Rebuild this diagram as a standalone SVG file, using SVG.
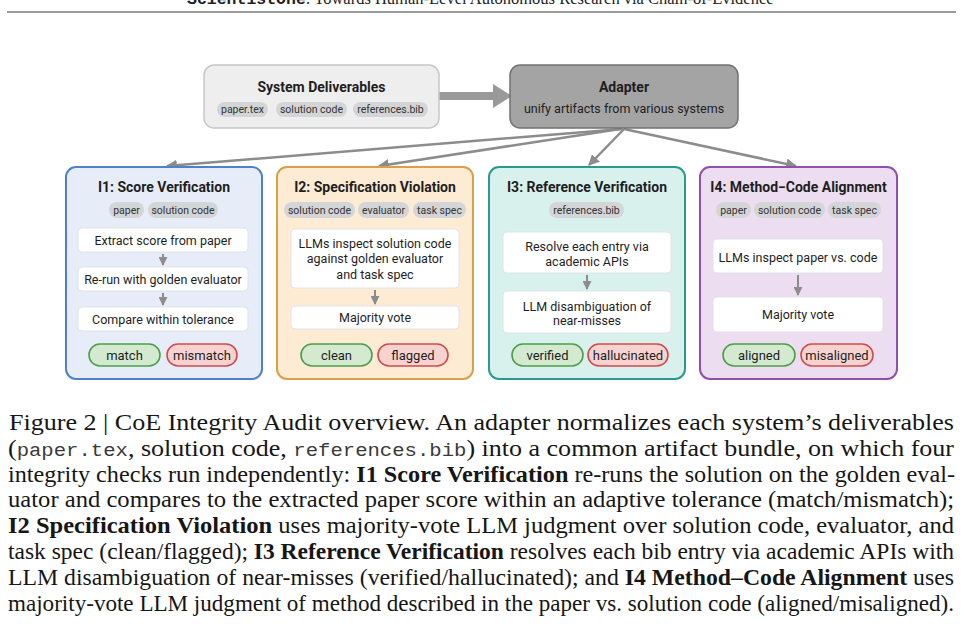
<svg xmlns="http://www.w3.org/2000/svg" width="964" height="633" viewBox="0 0 964 633">
<defs>
<style>
.sans{font-family:Roboto,"Liberation Sans",sans-serif;fill:#1e1e1e}
.ttl{font-size:14px;font-weight:700;text-anchor:middle}
.pill{fill:#d4d5d7}
.pt{font-size:10.5px;text-anchor:middle;fill:#333}
.step{fill:#ffffff;stroke:#dfe3e8;stroke-width:1}
.st{font-size:12.5px;text-anchor:middle}
.ok{fill:#d3ead0;stroke:#4c9e4a;stroke-width:1.6}
.bad{fill:#f6d3d1;stroke:#d24b4b;stroke-width:1.6}
.bt{font-size:13px;text-anchor:middle}
.conn{stroke:#8c8c8c;stroke-width:2.5;fill:none}
.sarr{stroke:#8c8c8c;stroke-width:2;fill:none}
.cap{font-family:"Liberation Serif",serif;font-size:24px;fill:#161616}
.mono{font-family:"Liberation Mono",monospace;font-size:19px;fill:#3a3a3a}
</style>
<marker id="ah" viewBox="0 0 10 10" refX="9" refY="5" markerWidth="4.4" markerHeight="4.4" orient="auto" markerUnits="strokeWidth">
<path d="M0,0 L10,5 L0,10 z" fill="#8c8c8c"/>
</marker>
<marker id="sh" viewBox="0 0 10 10" refX="9" refY="5" markerWidth="4.5" markerHeight="4.5" orient="auto" markerUnits="strokeWidth">
<path d="M0,0 L10,5 L0,10 z" fill="#8c8c8c"/>
</marker>
</defs>
<rect width="964" height="633" fill="#ffffff"/>

<!-- page header -->
<text x="187" y="4" style="font-size:16.5px;fill:#222"><tspan style="font-family:'Liberation Mono',monospace;font-weight:700">ScientistOne</tspan><tspan style="font-family:'Liberation Serif',serif">: Towards Human-Level Autonomous Research via Chain-of-Evidence</tspan></text>
<line x1="7" y1="12" x2="956" y2="12" stroke="#7a7a7a" stroke-width="1.6"/>

<!-- connectors -->
<g id="connectors">
<line x1="439" y1="96" x2="496" y2="96" stroke="#999999" stroke-width="8"/>
<path d="M493,84 L512,96 L493,108 z" fill="#999999"/>
<line class="conn" x1="622" y1="129" x2="167" y2="166" marker-end="url(#ah)"/>
<line class="conn" x1="620" y1="129" x2="379" y2="166" marker-end="url(#ah)"/>
<line class="conn" x1="624" y1="129" x2="589" y2="165" marker-end="url(#ah)"/>
<line class="conn" x1="624" y1="129" x2="796" y2="166" marker-end="url(#ah)"/>
</g>

<g id="system-deliverables" class="sans">
<rect x="204" y="65" width="235" height="63" rx="10" fill="#eeeeee" stroke="#c6c6c6" stroke-width="1.5"/>
<text class="ttl" x="321.5" y="92">System Deliverables</text>
<rect class="pill" x="217" y="102" width="51" height="15" rx="7.5"/>
<text class="pt" x="242.5" y="113">paper.tex</text>
<rect class="pill" x="276" y="102" width="71" height="15" rx="7.5"/>
<text class="pt" x="311.5" y="113">solution code</text>
<rect class="pill" x="353" y="102" width="75" height="15" rx="7.5"/>
<text class="pt" x="390.5" y="113">references.bib</text>
</g>

<g id="adapter" class="sans">
<rect x="510" y="65" width="228" height="63" rx="10" fill="#a4a4a4" stroke="#727272" stroke-width="1.5"/>
<text class="ttl" x="624" y="92">Adapter</text>
<text class="st" x="624" y="113" style="font-size:12.5px">unify artifacts from various systems</text>
</g>

<g id="i1" class="sans">
<rect x="66" y="167" width="196" height="212" rx="10" fill="#e6edf8" stroke="#4e80cb" stroke-width="2"/>
<text class="ttl" x="164" y="192">I1: Score Verification</text>
<rect class="pill" x="109" y="202" width="35" height="16" rx="8"/>
<text class="pt" x="126.5" y="213.5">paper</text>
<rect class="pill" x="148" y="202" width="70" height="16" rx="8"/>
<text class="pt" x="183" y="213.5">solution code</text>
<rect class="step" x="78" y="228" width="170" height="24" rx="4"/>
<text class="st" x="163" y="244.5">Extract score from paper</text>
<line class="sarr" x1="163" y1="254" x2="163" y2="265" marker-end="url(#sh)"/>
<rect class="step" x="78" y="267" width="170" height="24" rx="4"/>
<text class="st" x="163" y="283.5">Re-run with golden evaluator</text>
<line class="sarr" x1="163" y1="293" x2="163" y2="305" marker-end="url(#sh)"/>
<rect class="step" x="78" y="307" width="170" height="24" rx="4"/>
<text class="st" x="163" y="323.5">Compare within tolerance</text>
<rect class="ok" x="89" y="344" width="71" height="22" rx="11"/>
<text class="bt" x="124.5" y="359.5">match</text>
<rect class="bad" x="167" y="344" width="70" height="22" rx="11"/>
<text class="bt" x="202" y="359.5">mismatch</text>
</g>

<g id="i2" class="sans">
<rect x="277" y="167" width="196" height="212" rx="10" fill="#fdebd4" stroke="#d7a147" stroke-width="2"/>
<text class="ttl" x="375" y="192">I2: Specification Violation</text>
<rect class="pill" x="284" y="202" width="71" height="16" rx="8"/>
<text class="pt" x="319.5" y="213.5">solution code</text>
<rect class="pill" x="358" y="202" width="51" height="16" rx="8"/>
<text class="pt" x="383.5" y="213.5">evaluator</text>
<rect class="pill" x="413" y="202" width="53" height="16" rx="8"/>
<text class="pt" x="439.5" y="213.5">task spec</text>
<rect class="step" x="291" y="229" width="168" height="59" rx="4"/>
<text class="st" x="375" y="247.5">LLMs inspect solution code</text>
<text class="st" x="375" y="263">against golden evaluator</text>
<text class="st" x="375" y="278.5">and task spec</text>
<line class="sarr" x1="375" y1="290" x2="375" y2="304" marker-end="url(#sh)"/>
<rect class="step" x="291" y="306" width="168" height="23" rx="4"/>
<text class="st" x="375" y="322">Majority vote</text>
<rect class="ok" x="301" y="344" width="71" height="22" rx="11"/>
<text class="bt" x="336.5" y="359.5">clean</text>
<rect class="bad" x="378" y="344" width="70" height="22" rx="11"/>
<text class="bt" x="413" y="359.5">flagged</text>
</g>

<g id="i3" class="sans">
<rect x="489" y="167" width="196" height="212" rx="10" fill="#d9f1ed" stroke="#2a9a8c" stroke-width="2"/>
<text class="ttl" x="587" y="192">I3: Reference Verification</text>
<rect class="pill" x="549" y="202" width="75" height="16" rx="8"/>
<text class="pt" x="586.5" y="213.5">references.bib</text>
<rect class="step" x="503" y="232" width="168" height="41" rx="4"/>
<text class="st" x="587" y="250.5">Resolve each entry via</text>
<text class="st" x="587" y="265.5">academic APIs</text>
<line class="sarr" x1="587" y1="275" x2="587" y2="289" marker-end="url(#sh)"/>
<rect class="step" x="503" y="291" width="168" height="42" rx="4"/>
<text class="st" x="587" y="310.5">LLM disambiguation of</text>
<text class="st" x="587" y="325">near-misses</text>
<rect class="ok" x="512" y="344" width="71" height="22" rx="11"/>
<text class="bt" x="547.5" y="359.5">verified</text>
<rect class="bad" x="588" y="344" width="80" height="22" rx="11"/>
<text class="bt" x="628" y="359.5">hallucinated</text>
</g>

<g id="i4" class="sans">
<rect x="700" y="167" width="197" height="212" rx="10" fill="#ecddf0" stroke="#8f50ae" stroke-width="2"/>
<text class="ttl" x="798.5" y="192">I4: Method−Code Alignment</text>
<rect class="pill" x="716" y="202" width="35" height="16" rx="8"/>
<text class="pt" x="733.5" y="213.5">paper</text>
<rect class="pill" x="754" y="202" width="71" height="16" rx="8"/>
<text class="pt" x="789.5" y="213.5">solution code</text>
<rect class="pill" x="828" y="202" width="53" height="16" rx="8"/>
<text class="pt" x="854.5" y="213.5">task spec</text>
<rect class="step" x="713" y="239" width="170" height="34" rx="4"/>
<text class="st" x="798" y="261.5">LLMs inspect paper vs. code</text>
<line class="sarr" x1="798" y1="275" x2="798" y2="295" marker-end="url(#sh)"/>
<rect class="step" x="713" y="297" width="170" height="35" rx="4"/>
<text class="st" x="798" y="318.5">Majority vote</text>
<rect class="ok" x="723" y="344" width="72" height="22" rx="11"/>
<text class="bt" x="759" y="359.5">aligned</text>
<rect class="bad" x="801" y="344" width="72" height="22" rx="11"/>
<text class="bt" x="837" y="359.5">misaligned</text>
</g>

<!-- caption -->
<g id="caption" class="cap">
<text class="cap" x="9" y="430" textLength="945" lengthAdjust="spacingAndGlyphs">Figure 2 | CoE Integrity Audit overview.  An adapter normalizes each system’s deliverables</text>
<text class="cap" x="8" y="456" textLength="946" lengthAdjust="spacingAndGlyphs">(<tspan class="mono">paper.tex</tspan>, solution code, <tspan class="mono">references.bib</tspan>) into a common artifact bundle, on which four</text>
<text class="cap" x="8" y="482" textLength="947" lengthAdjust="spacingAndGlyphs">integrity checks run independently: <tspan font-weight="700">I1 Score Verification</tspan> re-runs the solution on the golden eval-</text>
<text class="cap" x="8" y="507" textLength="946" lengthAdjust="spacingAndGlyphs">uator and compares to the extracted paper score within an adaptive tolerance (match/mismatch);</text>
<text class="cap" x="8" y="533" textLength="946" lengthAdjust="spacingAndGlyphs"><tspan font-weight="700">I2 Specification Violation</tspan> uses majority-vote LLM judgment over solution code, evaluator, and</text>
<text class="cap" x="8" y="559" textLength="946" lengthAdjust="spacingAndGlyphs">task spec (clean/flagged); <tspan font-weight="700">I3 Reference Verification</tspan> resolves each bib entry via academic APIs with</text>
<text class="cap" x="8" y="585" textLength="946" lengthAdjust="spacingAndGlyphs">LLM disambiguation of near-misses (verified/hallucinated); and <tspan font-weight="700">I4 Method–Code Alignment</tspan> uses</text>
<text class="cap" x="8" y="611" textLength="946" lengthAdjust="spacingAndGlyphs">majority-vote LLM judgment of method described in the paper vs. solution code (aligned/misaligned).</text>
</g>
</svg>
